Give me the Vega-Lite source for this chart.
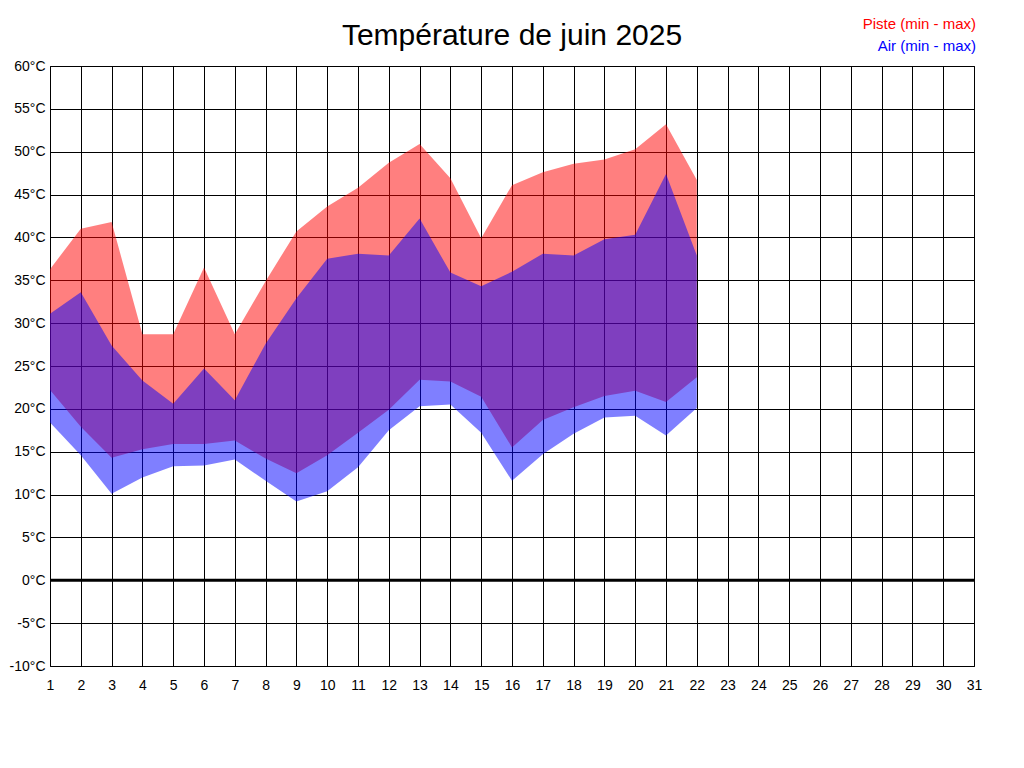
{
  "$schema": "https://vega.github.io/schema/vega-lite/v6.json",
  "width": 924,
  "height": 600,
  "autosize": "none",
  "padding": {"left": 50, "top": 66, "right": 50, "bottom": 102},
  "background": "white",
  "title": {
    "text": "Température de juin 2025",
    "font": "Liberation Sans",
    "fontSize": 30,
    "fontWeight": "normal",
    "color": "black",
    "anchor": "middle",
    "frame": "group",
    "offset": -35
  },
  "config": {
    "font": "Liberation Sans",
    "view": {"stroke": "black", "strokeWidth": 1},
    "axis": {
      "grid": true,
      "gridColor": "black",
      "gridOpacity": 1,
      "gridWidth": 1,
      "domain": false,
      "ticks": false,
      "tickSize": 0,
      "labelColor": "black",
      "labelFont": "Liberation Sans",
      "labelFontSize": 14,
      "labelOverlap": false,
      "labelFlush": false,
      "title": null
    },
    "axisX": {"labelPadding": 12},
    "axisY": {"labelPadding": 5}
  },
  "data": {
    "values": [
      {"day": 1, "serie": "Piste (min - max)", "min": 22.2, "max": 36.3},
      {"day": 2, "serie": "Piste (min - max)", "min": 17.9, "max": 41.0},
      {"day": 3, "serie": "Piste (min - max)", "min": 14.3, "max": 41.8},
      {"day": 4, "serie": "Piste (min - max)", "min": 15.3, "max": 28.7},
      {"day": 5, "serie": "Piste (min - max)", "min": 15.9, "max": 28.7},
      {"day": 6, "serie": "Piste (min - max)", "min": 15.9, "max": 36.5},
      {"day": 7, "serie": "Piste (min - max)", "min": 16.3, "max": 28.7},
      {"day": 8, "serie": "Piste (min - max)", "min": 14.2, "max": 34.9},
      {"day": 9, "serie": "Piste (min - max)", "min": 12.5, "max": 40.7},
      {"day": 10, "serie": "Piste (min - max)", "min": 14.6, "max": 43.6},
      {"day": 11, "serie": "Piste (min - max)", "min": 17.2, "max": 45.8},
      {"day": 12, "serie": "Piste (min - max)", "min": 19.9, "max": 48.7},
      {"day": 13, "serie": "Piste (min - max)", "min": 23.4, "max": 50.9},
      {"day": 14, "serie": "Piste (min - max)", "min": 23.2, "max": 46.9},
      {"day": 15, "serie": "Piste (min - max)", "min": 21.4, "max": 39.9},
      {"day": 16, "serie": "Piste (min - max)", "min": 15.5, "max": 46.1},
      {"day": 17, "serie": "Piste (min - max)", "min": 18.7, "max": 47.6},
      {"day": 18, "serie": "Piste (min - max)", "min": 20.2, "max": 48.6},
      {"day": 19, "serie": "Piste (min - max)", "min": 21.5, "max": 49.1},
      {"day": 20, "serie": "Piste (min - max)", "min": 22.1, "max": 50.3},
      {"day": 21, "serie": "Piste (min - max)", "min": 20.8, "max": 53.2},
      {"day": 22, "serie": "Piste (min - max)", "min": 23.7, "max": 46.7},
      {"day": 1, "serie": "Air (min - max)", "min": 18.4, "max": 31.1},
      {"day": 2, "serie": "Air (min - max)", "min": 14.6, "max": 33.6},
      {"day": 3, "serie": "Air (min - max)", "min": 10.1, "max": 27.4},
      {"day": 4, "serie": "Air (min - max)", "min": 12.0, "max": 23.3},
      {"day": 5, "serie": "Air (min - max)", "min": 13.3, "max": 20.6},
      {"day": 6, "serie": "Air (min - max)", "min": 13.4, "max": 24.7},
      {"day": 7, "serie": "Air (min - max)", "min": 14.1, "max": 21.0},
      {"day": 8, "serie": "Air (min - max)", "min": 11.6, "max": 27.6},
      {"day": 9, "serie": "Air (min - max)", "min": 9.2, "max": 32.9},
      {"day": 10, "serie": "Air (min - max)", "min": 10.4, "max": 37.5},
      {"day": 11, "serie": "Air (min - max)", "min": 13.2, "max": 38.1},
      {"day": 12, "serie": "Air (min - max)", "min": 17.5, "max": 37.9},
      {"day": 13, "serie": "Air (min - max)", "min": 20.3, "max": 42.2},
      {"day": 14, "serie": "Air (min - max)", "min": 20.5, "max": 35.9},
      {"day": 15, "serie": "Air (min - max)", "min": 17.2, "max": 34.3},
      {"day": 16, "serie": "Air (min - max)", "min": 11.6, "max": 36.0},
      {"day": 17, "serie": "Air (min - max)", "min": 14.7, "max": 38.1},
      {"day": 18, "serie": "Air (min - max)", "min": 17.1, "max": 37.9},
      {"day": 19, "serie": "Air (min - max)", "min": 19.0, "max": 39.8},
      {"day": 20, "serie": "Air (min - max)", "min": 19.2, "max": 40.3},
      {"day": 21, "serie": "Air (min - max)", "min": 16.9, "max": 47.4},
      {"day": 22, "serie": "Air (min - max)", "min": 20.1, "max": 37.9}
    ]
  },
  "encoding": {
    "x": {"field": "day", "type": "quantitative", "scale": {"domain": [1, 31], "nice": false, "zero": false},
          "axis": {"values": [1,2,3,4,5,6,7,8,9,10,11,12,13,14,15,16,17,18,19,20,21,22,23,24,25,26,27,28,29,30,31], "title": null, "labelOverlap": false, "labelBound": false, "labelFlush": false}},
    "y": {"field": "min", "type": "quantitative", "scale": {"domain": [-10, 60], "nice": false, "zero": false},
          "axis": {"values": [-10,-5,0,5,10,15,20,25,30,35,40,45,50,55,60], "labelExpr": "datum.value + '°C'", "title": null, "labelOverlap": false}}
  },
  "layer": [
    {
      "transform": [{"filter": "datum.serie === 'Piste (min - max)'"}],
      "mark": {"type": "area", "opacity": 0.5, "interpolate": "linear"},
      "encoding": {
        "y2": {"field": "max"},
        "color": {
          "field": "serie", "type": "nominal",
          "scale": {"domain": ["Piste (min - max)", "Air (min - max)"], "range": ["#ff0000", "#0000ff"]},
          "legend": {
            "title": null, "orient": "none", "legendX": 911, "legendY": -50,
            "padding": 0, "symbolSize": 0, "symbolOpacity": 0, "symbolStrokeWidth": 0,
            "labelOffset": 0, "labelFontSize": 15, "labelFont": "Liberation Sans",
            "labelAlign": "right", "rowPadding": 6,
            "encode": {"labels": {"update": {"fill": {"signal": "datum.value === 'Piste (min - max)' ? '#ff0000' : '#0000ff'"}}}}
          }
        }
      }
    },
    {
      "transform": [{"filter": "datum.serie === 'Air (min - max)'"}],
      "mark": {"type": "area", "opacity": 0.5, "interpolate": "linear"},
      "encoding": {
        "y2": {"field": "max"},
        "color": {"field": "serie", "type": "nominal"}
      }
    },
    {
      "data": {"values": [{"zero": 0}]},
      "mark": {"type": "rule", "color": "black", "strokeWidth": 3},
      "encoding": {
        "x": null,
        "y": {"field": "zero", "type": "quantitative", "axis": {"values": [-10,-5,0,5,10,15,20,25,30,35,40,45,50,55,60], "labelExpr": "datum.value + '°C'", "title": null, "labelOverlap": false}}
      }
    }
  ]
}
